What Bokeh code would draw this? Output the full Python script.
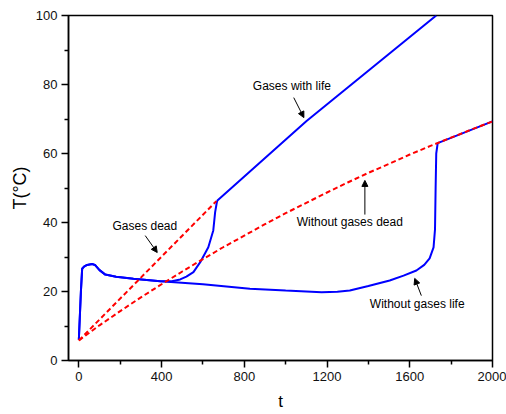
from bokeh.plotting import figure
from bokeh.models import Range1d, Label, Arrow, NormalHead, FixedTicker
from bokeh.embed import file_html
from bokeh.resources import INLINE

# ---- data ----
t_gas_life = [0, 10, 16, 25, 40, 64, 80, 100, 128, 180, 264, 394, 450, 490, 520, 554, 587,
              626, 650, 659, 667, 670, 1101, 1728]
T_gas_life = [6.0, 20.0, 26.6, 27.2, 27.7, 28.0, 27.6, 26.2, 24.9, 24.3, 23.7, 23.0, 23.0,
              23.5, 24.3, 25.6, 28.5, 32.8, 37.7, 43.0, 45.8, 46.4, 69.4, 100.0]

t_nogas_life = [0, 10, 16, 25, 40, 64, 80, 100, 128, 180, 264, 394, 600, 827, 1000, 1174,
                1250, 1310, 1400, 1503, 1570, 1632, 1670, 1696, 1715, 1722, 1725, 1728,
                1735, 2000]
T_nogas_life = [6.0, 20.0, 26.6, 27.2, 27.7, 28.0, 27.6, 26.2, 24.9, 24.3, 23.7, 23.0, 22.1,
                20.8, 20.3, 19.8, 19.9, 20.3, 21.6, 23.2, 24.6, 26.1, 27.7, 29.6, 32.8,
                38.0, 50.0, 60.0, 63.0, 69.3]

t_gas_dead = [0, 665]
T_gas_dead = [5.8, 46.2]

t_nogas_dead = [0, 100, 200, 300, 400, 500, 600, 700, 800, 900, 1000, 1100, 1200, 1300,
                1400, 1500, 1600, 1700, 1800, 1900, 2000]
T_nogas_dead = [5.8, 10.2, 14.3, 18.3, 22.1, 25.8, 29.4, 32.9, 36.2, 39.5, 42.7, 45.7, 48.7,
                51.6, 54.4, 57.0, 59.7, 62.2, 64.6, 67.0, 69.3]

x_ticks = [0, 400, 800, 1200, 1600, 2000]
y_ticks = [0, 20, 40, 60, 80, 100]

FONT = "Liberation Sans"

p = figure(width=506, height=414, output_backend="svg", toolbar_location=None,
           x_range=Range1d(-50, 2000), y_range=Range1d(0, 100),
           min_border_left=68, min_border_right=14, min_border_top=15, min_border_bottom=54)
p.xgrid.visible = False
p.ygrid.visible = False
p.outline_line_color = "black"
p.outline_line_width = 1.5
p.background_fill_color = "white"
p.border_fill_color = "white"

for ax, ticks, minor in ((p.xaxis[0], x_ticks, [200, 600, 1000, 1400, 1800]),
                         (p.yaxis[0], y_ticks, [10, 30, 50, 70, 90])):
    ax.ticker = FixedTicker(ticks=ticks, minor_ticks=minor)
    ax.axis_line_color = "black"
    ax.axis_line_width = 1.5
    ax.major_tick_line_color = "black"
    ax.major_tick_line_width = 1.5
    ax.minor_tick_line_color = "black"
    ax.minor_tick_line_width = 1.5
    ax.major_tick_out = 7
    ax.major_tick_in = 0
    ax.minor_tick_out = 4
    ax.minor_tick_in = 0
    ax.major_label_text_font = FONT
    ax.major_label_text_font_size = "13px"
    ax.major_label_text_color = "#111111"
    ax.axis_label_text_font = FONT
    ax.axis_label_text_font_style = "normal"
    ax.axis_label_text_color = "black"

p.xaxis.axis_label = "t"
p.xaxis.axis_label_text_font_size = "17px"
p.xaxis.major_label_standoff = 4
p.xaxis.axis_label_standoff = 8
p.yaxis.axis_label = "T(°C)"
p.yaxis.axis_label_text_font_size = "18px"
p.yaxis.major_label_standoff = 4
p.yaxis.axis_label_standoff = 3

# blue curves first, red dashed on top
p.line(t_gas_life, T_gas_life, line_color="#0000FF", line_width=2)
p.line(t_nogas_life, T_nogas_life, line_color="#0000FF", line_width=2)
p.line(t_gas_dead, T_gas_dead, line_color="#FF0000", line_width=2, line_dash="5 3")
p.line(t_nogas_dead, T_nogas_dead, line_color="#FF0000", line_width=2, line_dash="5 3")

# annotations
labels = [("Gases with life", 1030, 79.7), ("Gases dead", 319, 39.1),
          ("Without gases dead", 1310, 40.1), ("Without gases life", 1636, 16.5)]
for txt, x, y in labels:
    p.add_layout(Label(x=x, y=y, text=txt, text_font=FONT, text_font_size="12px",
                       text_align="center", text_baseline="middle", text_color="black"))

arrows = [(1039, 76.2, 1088, 70.4), (321, 36.2, 379, 31.3),
          (1383, 42.3, 1383, 52.2), (1656, 18.8, 1624, 23.8)]
for x0, y0, x1, y1 in arrows:
    p.add_layout(Arrow(x_start=x0, y_start=y0, x_end=x1, y_end=y1, line_width=1,
                       line_color="black",
                       end=NormalHead(size=6, fill_color="black", line_color="black")))

open("out.html", "w").write(file_html(p, INLINE))
